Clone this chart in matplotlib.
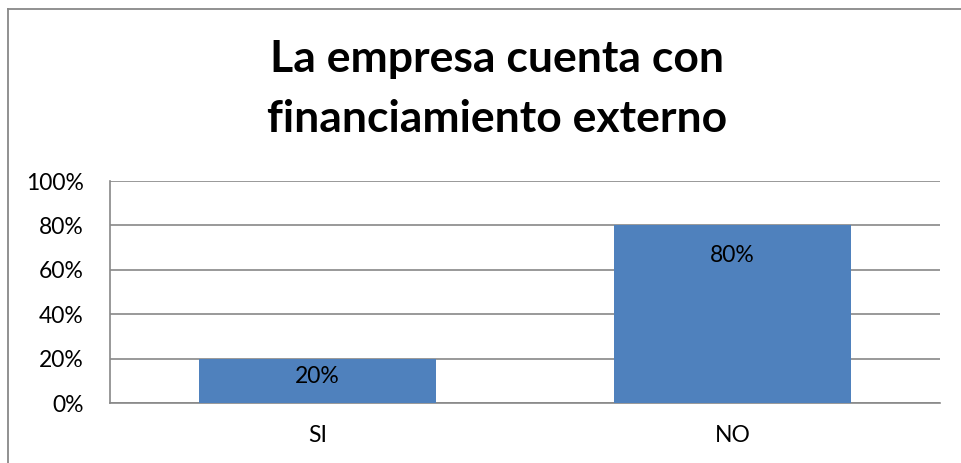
import matplotlib
matplotlib.use("Agg")
import matplotlib.pyplot as plt
from matplotlib.lines import Line2D

categories = ["SI", "NO"]
values = [20, 80]
labels = ["20%", "80%"]
yticks = [0, 20, 40, 60, 80, 100]
title = "La empresa cuenta con\nfinanciamiento externo"

W, H = 961, 463
fig = plt.figure(figsize=(W/100, H/100), dpi=100)
plt.rcParams['font.family'] = ['Lato', 'DejaVu Sans']

# outer border (left and top only visible)
fig.add_artist(Line2D([8/W, 8/W], [0, 1 - 9/H], color='#888888', lw=1.3, transform=fig.transFigure))
fig.add_artist(Line2D([8/W, 1], [1 - 9/H, 1 - 9/H], color='#888888', lw=1.3, transform=fig.transFigure))

left, right, top, bottom = 110, 940, 181, 403
ax = fig.add_axes([left/W, 1 - bottom/H, (right-left)/W, (bottom-top)/H])
x = range(len(categories))
bars = ax.bar(x, values, width=0.571, color='#4F81BD', zorder=3)
ax.set_xlim(-0.5, 1.5)
ax.set_ylim(0, 100)
ax.set_yticks(yticks)
ax.set_yticklabels([f"{t}%" for t in yticks], fontsize=16.5)
ax.set_xticks(list(x))
ax.set_xticklabels(categories, fontsize=16.5)
ax.tick_params(axis='y', length=0, pad=19)
ax.tick_params(axis='x', length=0, pad=16)
ax.grid(axis='y', color='#888888', lw=1.2, zorder=0)
for s in ['top', 'right']:
    ax.spines[s].set_visible(False)
ax.spines['left'].set_color('#888888')
ax.spines['bottom'].set_color('#888888')
ax.spines['left'].set_linewidth(1.2)
ax.spines['bottom'].set_linewidth(1.2)

label_offsets_px = [18, 30]
for b, lab, off in zip(bars, labels, label_offsets_px):
    ax.annotate(lab, (b.get_x() + b.get_width()/2, b.get_height()),
                xytext=(0, -off * 72 / 100), textcoords='offset points',
                ha='center', va='center', fontsize=16.5, color='black', zorder=4)

fig.text(497/W, 1 - 89/H, title, ha='center', va='center', fontsize=32,
         fontweight='bold', linespacing=1.58)

fig.savefig("out.png", dpi=100)
